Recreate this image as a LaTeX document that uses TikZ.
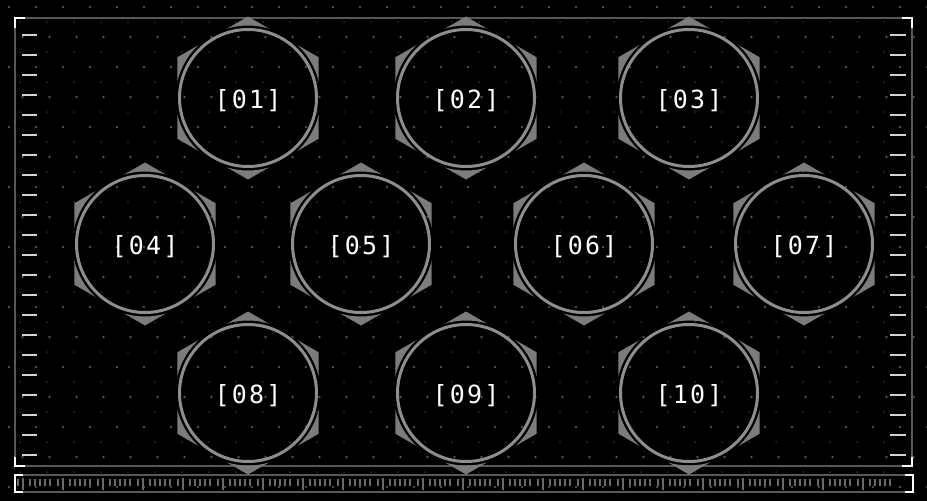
\documentclass[tikz,border=0pt]{standalone}
\usepackage{fontspec}
\newfontfamily\podfont{DejaVu Sans Mono}[LetterSpace=9]

\definecolor{hexgray}{HTML}{7C7C7C}
\definecolor{ringgray}{HTML}{8E8E8E}
\definecolor{framegray}{HTML}{585858}
\definecolor{tickgray}{HTML}{D2D2D2}
\definecolor{rulergray}{HTML}{6A6A6A}
\definecolor{dotgray}{HTML}{505050}
\definecolor{faintdot}{HTML}{2C2C2C}

\begin{document}
\begin{tikzpicture}[x=1pt,y=-1pt,
  pod/.style={circle,draw=ringgray,line width=3pt,minimum size=137pt,inner sep=0pt,
    text=white,text height=20pt,text depth=0pt,font=\podfont\fontsize{25}{25}\selectfont},
  hexpart/.style={fill=hexgray,even odd rule},
  frameline/.style={draw=framegray,line width=2pt},
  corner/.style={draw=white,line width=2.5pt},
  sidetick/.style={draw=tickgray,line width=2.5pt},
  rulertick/.style={draw=rulergray,line width=1.5pt}]
\fill[black] (0,0) rectangle (927,501);
\useasboundingbox (0,0) rectangle (927,501);
\foreach \i in {0,...,34}
  \foreach \j in {0,...,16}
    {\fill[dotgray] ({9+27*\i+13.5*mod(\j,2)},{7+30*\j}) circle (1.4pt);
     \fill[faintdot] ({20+27*\i},{22+30*\j}) circle (1pt);}
\draw[frameline] (15,18) rectangle (912,466);
\draw[corner] (15,28) -- (15,18) -- (25,18);
\draw[corner] (902,18) -- (912,18) -- (912,28);
\draw[corner] (15,457) -- (15,466) -- (25,466);
\draw[corner] (902,466) -- (912,466) -- (912,457);
\foreach \y in {35,55,...,455}
  {\draw[sidetick] (22,\y) -- (37,\y);
   \draw[sidetick] (890,\y) -- (906,\y);}
\draw[frameline] (15,475) -- (912,475) (15,492) -- (912,492);
\foreach \k in {0,...,21}
  {\draw[rulertick] ({18+40*\k},479) -- ({18+40*\k},486);
   \draw[rulertick] ({23+40*\k},478) -- ({23+40*\k},490);
   \foreach \m in {12,17,22,27,32}
     \draw[rulertick] ({18+40*\k+\m},479) -- ({18+40*\k+\m},486);}
\draw[corner] (23,475) -- (15,475) -- (15,492) -- (23,492);
\draw[corner] (905,475) -- (913,475) -- (913,492) -- (905,492);
\foreach \n/\x/\y in {01/248/98,02/466/98,03/689/98,
                      04/145/244,05/361/244,06/584/244,07/804/244,
                      08/248/393,09/466/393,10/689/393}
  {\begin{scope}[shift={(\x,\y)}]
     \clip (90:81.5pt) -- (150:81.5pt) -- (210:81.5pt) -- (270:81.5pt)
       -- (330:81.5pt) -- (30:81.5pt) -- cycle;
     \fill[hexpart] (0,0) circle (90pt) (0,0) circle (72.5pt);
   \end{scope}
   \node[pod] (p\n) at (\x,\y) {[\n]};}
\end{tikzpicture}
\end{document}
